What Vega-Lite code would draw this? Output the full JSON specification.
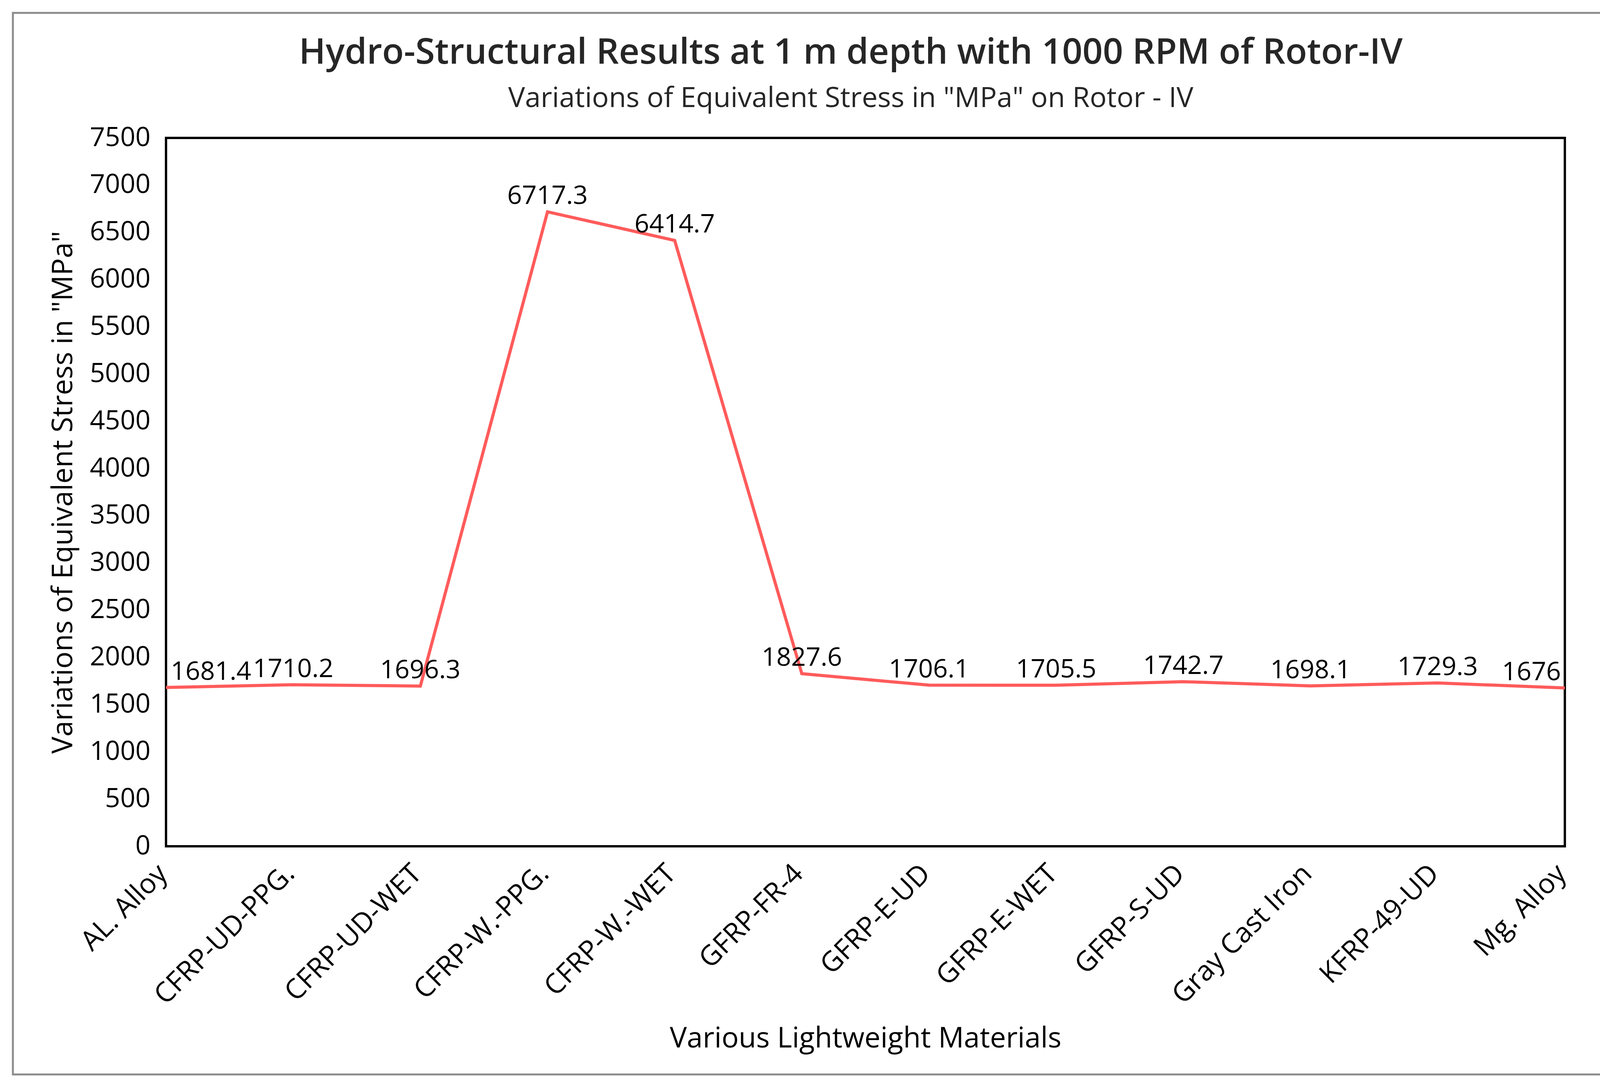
{
  "$schema": "https://vega.github.io/schema/vega-lite/v6.json",
  "width": 4290,
  "height": 2717,
  "autosize": {"type": "none"},
  "padding": {"left": 33, "top": 33, "right": 31, "bottom": 27},
  "background": "white",
  "title": {
    "text": "Hydro-Structural Results at 1 m depth with 1000 RPM of Rotor-IV",
    "subtitle": "Variations of Equivalent Stress in \"MPa\" on Rotor - IV",
    "anchor": "middle",
    "frame": "group",
    "font": "Open Sans",
    "fontSize": 91,
    "fontWeight": 600,
    "color": "#262626",
    "subtitleFont": "Open Sans",
    "subtitleFontSize": 72,
    "subtitleColor": "#262626",
    "subtitlePadding": 35,
    "offset": -256
  },
  "config": {
    "view": {"stroke": "#8C8C8C", "strokeWidth": 5},
    "font": "Open Sans"
  },
  "data": {
    "values": [
      {"Material": "AL. Alloy", "Stress": 1681.4},
      {"Material": "CFRP-UD-PPG.", "Stress": 1710.2},
      {"Material": "CFRP-UD-WET", "Stress": 1696.3},
      {"Material": "CFRP-W.-PPG.", "Stress": 6717.3},
      {"Material": "CFRP-W.-WET", "Stress": 6414.7},
      {"Material": "GFRP-FR-4", "Stress": 1827.6},
      {"Material": "GFRP-E-UD", "Stress": 1706.1},
      {"Material": "GFRP-E-WET", "Stress": 1705.5},
      {"Material": "GFRP-S-UD", "Stress": 1742.7},
      {"Material": "Gray Cast Iron", "Stress": 1698.1},
      {"Material": "KFRP-49-UD", "Stress": 1729.3},
      {"Material": "Mg. Alloy", "Stress": 1676}
    ]
  },
  "encoding": {
    "x": {
      "field": "Material",
      "type": "nominal",
      "sort": null,
      "scale": {
        "type": "point",
        "padding": 0,
        "domain": ["AL. Alloy", "CFRP-UD-PPG.", "CFRP-UD-WET", "CFRP-W.-PPG.", "CFRP-W.-WET", "GFRP-FR-4", "GFRP-E-UD", "GFRP-E-WET", "GFRP-S-UD", "Gray Cast Iron", "KFRP-49-UD", "Mg. Alloy"],
        "range": [392, 3973]
      },
      "axis": {
        "title": "Various Lightweight Materials",
        "titleFont": "Open Sans",
        "titleFontSize": 73,
        "titleFontWeight": "normal",
        "titleColor": "#000000",
        "titleY": 514,
        "titleBaseline": "alphabetic",
        "offset": -584,
        "labelAngle": -45,
        "labelAlign": "right",
        "labelBaseline": "middle",
        "labelFont": "Open Sans",
        "labelFontSize": 71,
        "labelColor": "#000000",
        "labelPadding": 59,
        "labelOffset": -8,
        "labelLimit": 0,
        "labelOverlap": false,
        "ticks": false,
        "domain": false,
        "grid": false
      }
    },
    "y": {
      "field": "Stress",
      "type": "quantitative",
      "scale": {"domain": [0, 7500], "nice": false, "range": [2133, 320]},
      "axis": {
        "title": "Variations of Equivalent Stress in \"MPa\"",
        "titleFont": "Open Sans",
        "titleFontSize": 73,
        "titleFontWeight": "normal",
        "titleColor": "#000000",
        "titlePadding": 30,
        "offset": -392,
        "values": [0, 500, 1000, 1500, 2000, 2500, 3000, 3500, 4000, 4500, 5000, 5500, 6000, 6500, 7000, 7500],
        "format": "d",
        "labelFont": "Open Sans",
        "labelFontSize": 68,
        "labelColor": "#000000",
        "labelPadding": 40,
        "labelOverlap": false,
        "ticks": false,
        "domain": false,
        "grid": false
      }
    }
  },
  "layer": [
    {
      "mark": {"type": "rect", "filled": false, "stroke": "#000000", "strokeWidth": 5},
      "encoding": {
        "x": {"datum": "AL. Alloy", "type": "nominal"},
        "x2": {"datum": "Mg. Alloy"},
        "y": {"datum": 0, "type": "quantitative"},
        "y2": {"datum": 7500}
      }
    },
    {"mark": {"type": "line", "color": "#FF5B5B", "strokeWidth": 8}},
    {
      "transform": [{"filter": "datum.Material !== 'AL. Alloy' && datum.Material !== 'Mg. Alloy'"}],
      "mark": {"type": "text", "align": "center", "baseline": "alphabetic", "dy": -20, "fontSize": 66, "font": "Open Sans", "color": "#000000"},
      "encoding": {"text": {"field": "Stress", "type": "quantitative"}}
    },
    {
      "transform": [{"filter": "datum.Material === 'AL. Alloy'"}],
      "mark": {"type": "text", "align": "left", "baseline": "alphabetic", "dx": 12, "dy": -20, "fontSize": 66, "font": "Open Sans", "color": "#000000"},
      "encoding": {"text": {"field": "Stress", "type": "quantitative"}}
    },
    {
      "transform": [{"filter": "datum.Material === 'Mg. Alloy'"}],
      "mark": {"type": "text", "align": "right", "baseline": "alphabetic", "dx": -10, "dy": -20, "fontSize": 66, "font": "Open Sans", "color": "#000000"},
      "encoding": {"text": {"field": "Stress", "type": "quantitative"}}
    }
  ]
}
